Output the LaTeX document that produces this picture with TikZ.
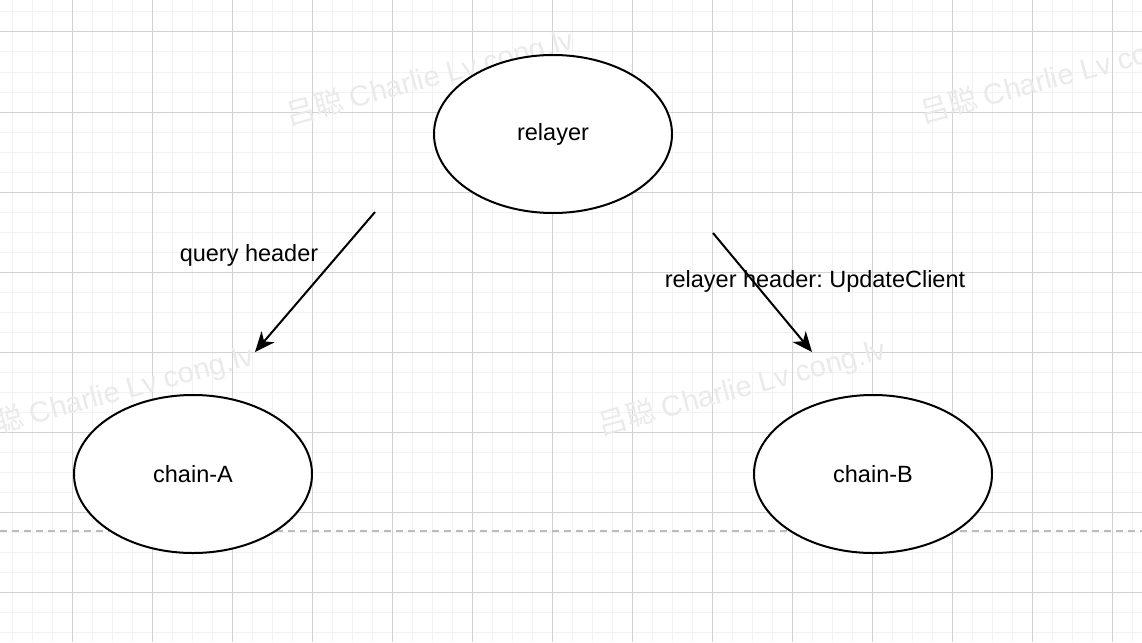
\documentclass[tikz,border=0pt]{standalone}
\usepackage{fontspec}
\setmainfont{Liberation Sans}
\newfontfamily\cjkfont{Noto Sans CJK SC}
\usetikzlibrary{arrows.meta,shapes.geometric}
\definecolor{gridmajor}{HTML}{D2D2D2}
\definecolor{gridminor}{HTML}{F2F2F2}
\definecolor{wmgray}{HTML}{EAEAEA}
\definecolor{dashgray}{HTML}{BBBBBB}
\frenchspacing
\begin{document}
\begin{tikzpicture}[x=1pt,y=-1pt,
    bubble/.style={draw,line width=2pt,ellipse,minimum width=238pt,minimum height=158pt,
      fill=white,font=\fontsize{23.5}{28}\selectfont},
    flow/.style={line width=2pt,-{Stealth[length=20pt,width=17pt,inset=6pt]}},
    tag/.style={font=\fontsize{23.5}{28}\selectfont},
    wmark/.style={text=wmgray,rotate=15,font=\fontsize{29}{33}\selectfont}]
    \useasboundingbox[fill=white] (0,0) rectangle (1142,642);
    % grid
    \foreach \x in {12,32,...,1142}
        \draw[gridminor,line width=1pt] (\x,0) -- (\x,642);
    \foreach \y in {12,32,...,642}
        \draw[gridminor,line width=1pt] (0,\y) -- (1142,\y);
    \foreach \x in {72,152,...,1142}
        \draw[gridmajor,line width=1pt] (\x,0) -- (\x,642);
    \foreach \y in {32,112,...,642}
        \draw[gridmajor,line width=1pt] (0,\y) -- (1142,\y);
    % watermarks
    \node[wmark] (wm1) at (430,78) {{\cjkfont 吕聪} Charlie Lv cong.lv};
    \node[wmark] (wm2) at (1064,76) {{\cjkfont 吕聪} Charlie Lv cong.lv};
    \node[wmark] (wm3) at (110,394) {{\cjkfont 吕聪} Charlie Lv cong.lv};
    \node[wmark] (wm4) at (742,388) {{\cjkfont 吕聪} Charlie Lv cong.lv};
    % dashed line
    \draw[dashgray,line width=1.5pt,dash pattern=on 7pt off 5pt] (0,531) -- (1142,531);
    % nodes
    \node[bubble] (relayer) at (553,134) {relayer};
    \node[bubble] (chainA) at (193,474) {chain-A};
    \node[bubble] (chainB) at (873,474) {chain-B};
    \coordinate (qstart) at (375,212);
    \coordinate (qend) at (255,352);
    \coordinate (ustart) at (713,233);
    \coordinate (uend) at (812,352);
    \node[tag] (query) at (249,255) {query header};
    \node[tag] (update) at (815,281) {relayer header: UpdateClient};
    \draw[flow] (qstart) -- (qend);
    \draw[flow] (ustart) -- (uend);
\end{tikzpicture}
\end{document}
